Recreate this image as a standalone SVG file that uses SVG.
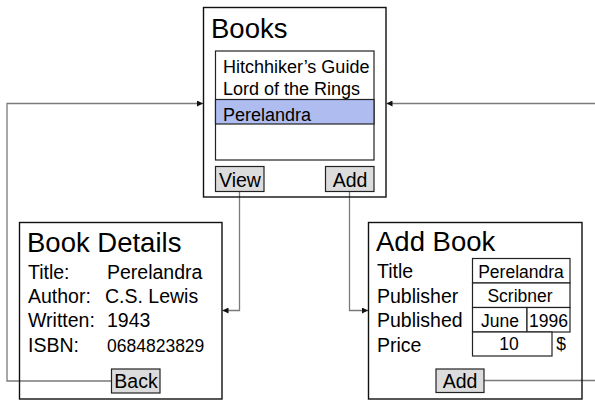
<svg xmlns="http://www.w3.org/2000/svg" width="595" height="404" viewBox="0 0 595 404">
  <style>
    text { font-family: "Liberation Sans", Arial, sans-serif; fill: #000; }
    .frame { fill: none; stroke: #111; stroke-width: 1.4; }
    .box { fill: #fff; stroke: #222; stroke-width: 1.2; }
    .btn { fill: #dcdcdc; stroke: #222; stroke-width: 1.2; }
    .sel { fill: #aebcef; stroke: #222; stroke-width: 1.2; }
    .title { font-size: 27.5px; }
    .item { font-size: 18px; }
    .label { font-size: 19.5px; }
    .btext { font-size: 19.5px; text-anchor: middle; }
    .field { font-size: 17.5px; text-anchor: middle; }
    .conn { fill: none; stroke: #7a7a7a; stroke-width: 1.3; }
  </style>
  <defs>
    <marker id="arrow" viewBox="0 0 8 8" refX="8" refY="4" markerWidth="6" markerHeight="6" markerUnits="userSpaceOnUse" orient="auto">
      <path d="M0,0 L8,4 L0,8 z" fill="#111"/>
    </marker>
  </defs>

  <rect width="595" height="404" fill="#fff"/>

  <!-- Connectors between screens -->
  <g id="connectors">
    <path class="conn" d="M111,381 H7 V103.5 H203" marker-end="url(#arrow)"/>
    <path class="conn" d="M484,380.5 H610 V103.5 H386.5" marker-end="url(#arrow)"/>
    <path class="conn" d="M239.5,192 V310.5 H222.5" marker-end="url(#arrow)"/>
    <path class="conn" d="M349.5,192 V310.5 H368" marker-end="url(#arrow)"/>
  </g>

  <!-- Books list screen -->
  <g id="books">
    <rect class="frame" x="203.5" y="7.5" width="182.5" height="189.5"/>
    <text class="title" x="211" y="38">Books</text>
    <rect class="box" x="215.5" y="51" width="158.5" height="109"/>
    <rect class="sel" x="215.5" y="99.5" width="158.5" height="24.5"/>
    <text class="item" x="223" y="73">Hitchhiker’s Guide</text>
    <text class="item" x="223" y="95">Lord of the Rings</text>
    <text class="item" x="223" y="121">Perelandra</text>
    <rect class="btn" x="215.5" y="166.5" width="48.5" height="25"/>
    <text class="btext" x="240" y="187">View</text>
    <rect class="btn" x="325.5" y="166.5" width="48.5" height="25"/>
    <text class="btext" x="350" y="187">Add</text>
  </g>

  <!-- Book details screen -->
  <g id="book-details">
    <rect class="frame" x="19.5" y="222.5" width="202.5" height="176.5"/>
    <text class="title" x="27" y="252">Book Details</text>
    <text class="label" x="28" y="279">Title:</text>
    <text class="label" x="107" y="279">Perelandra</text>
    <text class="label" x="28" y="303">Author:</text>
    <text class="label" x="105" y="303">C.S. Lewis</text>
    <text class="label" x="28" y="327">Written:</text>
    <text class="label" x="107" y="327">1943</text>
    <text class="label" x="28" y="352">ISBN:</text>
    <text class="label" x="107" y="352" style="font-size:17.5px">0684823829</text>
    <rect class="btn" x="111.5" y="369" width="48.5" height="24"/>
    <text class="btext" x="136" y="388">Back</text>
  </g>

  <!-- Add book form screen -->
  <g id="add-book">
    <rect class="frame" x="368.5" y="222.5" width="213.5" height="176.5"/>
    <text class="title" x="376" y="251">Add Book</text>
    <text class="label" x="377" y="278">Title</text>
    <text class="label" x="377" y="303">Publisher</text>
    <text class="label" x="377" y="327">Published</text>
    <text class="label" x="377" y="352">Price</text>
    <rect class="box" x="472.5" y="258.5" width="97.5" height="24.5"/>
    <text class="field" x="521" y="278">Perelandra</text>
    <rect class="box" x="472.5" y="283" width="97.5" height="24.5"/>
    <text class="field" x="520" y="302">Scribner</text>
    <rect class="box" x="472.5" y="307.5" width="54.5" height="24.5"/>
    <text class="field" x="500" y="327">June</text>
    <rect class="box" x="527" y="307.5" width="43" height="24.5"/>
    <text class="field" x="548.5" y="327">1996</text>
    <rect class="box" x="472.5" y="332" width="79.5" height="24"/>
    <text class="field" x="509" y="350">10</text>
    <text class="field" x="561" y="350">$</text>
    <rect class="btn" x="436" y="369" width="48" height="23.5"/>
    <text class="btext" x="460" y="388">Add</text>
  </g>
</svg>
